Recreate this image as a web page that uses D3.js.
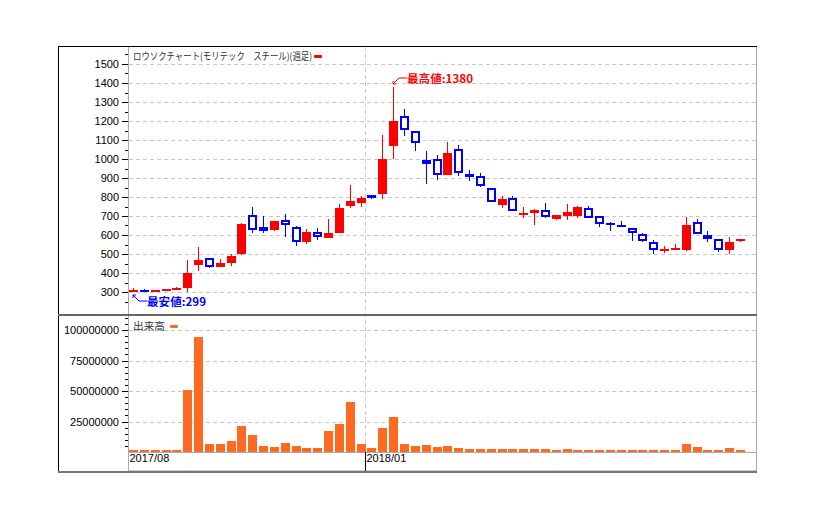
<!DOCTYPE html>
<html><head><meta charset="utf-8">
<script src="https://cdn.jsdelivr.net/npm/d3@7"></script>
<style>body{margin:0;background:#fff}svg{display:block}</style>
</head><body><svg id="c" width="815" height="520"></svg>
<script>
const dates = ["2017/08/04","2017/08/11","2017/08/18","2017/08/25","2017/09/01","2017/09/08","2017/09/15","2017/09/22","2017/09/29","2017/10/06","2017/10/13","2017/10/20","2017/10/27","2017/11/03","2017/11/10","2017/11/17","2017/11/24","2017/12/01","2017/12/08","2017/12/15","2017/12/22","2017/12/29",
"2018/01/05","2018/01/12","2018/01/19","2018/01/26","2018/02/02","2018/02/09","2018/02/16","2018/02/23","2018/03/02","2018/03/09","2018/03/16","2018/03/23","2018/03/30","2018/04/06","2018/04/13","2018/04/20","2018/04/27","2018/05/04","2018/05/11","2018/05/18","2018/05/25","2018/06/01","2018/06/08","2018/06/15","2018/06/22","2018/06/29","2018/07/06","2018/07/13","2018/07/20","2018/07/27","2018/08/03","2018/08/10","2018/08/17","2018/08/24","2018/08/31"];
const open  = [300,313,305,305,310,321,440,477,434,454,498,705,640,625,679,642,561,616,582,612,755,771,810,818,1071,1225,1146,995,999,918,1051,921,910,847,760,794,715,716,731,682,698,702,741,700,665,654,636,605,563,514,519,519,668,600,578,519,570];
const high  = [321,314,312,316,328,468,538,478,472,500,662,749,702,676,712,649,631,637,686,764,864,805,812,1127,1380,1263,1150,1043,1022,1090,1074,941,926,847,805,805,747,738,768,706,764,754,754,700,670,673,636,612,575,543,554,696,685,620,578,591,580];
const low   = [299,305,302,305,308,300,413,428,431,438,497,610,610,619,588,540,551,574,582,610,743,748,790,792,1000,1120,1040,871,892,916,911,882,852,773,740,726,692,654,687,677,677,687,689,642,619,640,571,561,500,503,519,518,605,561,508,500,564];
const close = [310,311,310,316,323,400,468,433,452,489,660,626,621,675,653,563,617,589,612,743,780,797,795,1000,1200,1152,1083,973,915,1032,925,905,857,773,790,726,717,733,694,705,722,746,689,658,652,645,610,568,519,526,533,654,605,578,519,564,580];
const volume = [1400000,1400000,1400000,1400000,1400000,50700000,94200000,6300000,6300000,8800000,21000000,13700000,4700000,3800000,7100000,4700000,3000000,3000000,17300000,23000000,40800000,6300000,3000000,19500000,28500000,6300000,4700000,5500000,3800000,4700000,3000000,2200000,2200000,2200000,2200000,2200000,2200000,2200000,2200000,1400000,2200000,1400000,1400000,1400000,1400000,1400000,1400000,1400000,1400000,1400000,1400000,6300000,3800000,1400000,1400000,3000000,1400000];
const priceTicks = [300,400,500,600,700,800,900,1000,1100,1200,1300,1400,1500];
const priceMinorTicks = [250,350,450,550,650,750,850,950,1050,1150,1250,1350,1450,1550];
const volumeTicks = [25000000,50000000,75000000,100000000];
const volumeMinorTicks = [5000000,10000000,15000000,20000000,30000000,35000000,40000000,45000000,55000000,60000000,65000000,70000000,80000000,85000000,90000000,95000000,105000000,110000000];
const xTickDates = ["2017/08/04","2018/01/05"];
const xTickLabels = ["2017/08","2018/01"];
const chartTitle = "ロウソクチャート(モリテック\u3000スチール)(週足)";
const volumeTitle = "出来高";

const RED = "#ff0000", BLUE = "#0000ff", ORANGE = "#ff6a22", GRID = "#c8c8c8";
const svg = d3.select("#c");
svg.append("rect").attr("width",815).attr("height",520).attr("fill","#fff");

const x = d3.scaleBand().domain(dates).range([129,745]).paddingInner(0.1697).paddingOuter(0);
const xl = d => Math.round(x(d));
const bw = 9;
const y = d3.scaleLinear().domain([300,1500]).range([292,64]).interpolate(d3.interpolateRound);
const yv = d3.scaleLinear().domain([0,100000000]).range([452,330]).interpolate(d3.interpolateRound);

const PL = 128, PR = 757;
// gridlines
const grid = svg.append("g").attr("stroke",GRID).attr("stroke-dasharray","4,3").attr("stroke-width",1);
priceTicks.forEach(t => grid.append("line").attr("x1",PL+1).attr("x2",PR).attr("y1",y(t)+0.5).attr("y2",y(t)+0.5));
volumeTicks.forEach(t => grid.append("line").attr("x1",PL+1).attr("x2",PR).attr("y1",yv(t)+0.5).attr("y2",yv(t)+0.5));
const gx = xl("2018/01/05") - 1.5;
grid.append("line").attr("x1",gx).attr("x2",gx).attr("y1",47).attr("y2",452);

// volume bars
svg.append("g").selectAll("rect").data(dates).join("rect")
  .attr("x", d => xl(d)).attr("width", bw)
  .attr("y", (d,i) => yv(volume[i])).attr("height", (d,i) => yv(0) - yv(volume[i]))
  .attr("fill", ORANGE);

// candles
const cg = svg.append("g");
dates.forEach((d,i) => {
  const up = close[i] >= open[i];
  const col = up ? RED : BLUE;
  const cx = xl(d) + 4.5;
  cg.append("line").attr("x1",cx).attr("x2",cx).attr("y1",y(high[i])).attr("y2",y(low[i]))
    .attr("stroke",col).attr("stroke-width",1);
  const top = Math.min(y(open[i]), y(close[i]));
  const h = Math.max(2, Math.abs(y(open[i]) - y(close[i])));
  if (up) {
    cg.append("rect").attr("x",xl(d)).attr("y",top).attr("width",bw).attr("height",h).attr("fill",RED);
  } else {
    if (h <= 3) {
      cg.append("rect").attr("x",xl(d)).attr("y",top).attr("width",bw).attr("height",Math.max(2,h)).attr("fill",BLUE);
    } else {
      cg.append("rect").attr("x",xl(d)+1).attr("y",top+1).attr("width",bw-2).attr("height",h-2)
        .attr("fill","#fff").attr("stroke",BLUE).attr("stroke-width",2);
    }
  }
});

// axes
const axFont = "'Liberation Sans', Arial, sans-serif";
function styleAxis(g){
  g.select(".domain").remove();
  g.selectAll("text").attr("font-family",axFont).attr("font-size",11).attr("fill","#000");
  g.selectAll("line").attr("stroke","#000");
}
svg.append("g").attr("transform",`translate(${PL},0)`)
  .call(d3.axisLeft(y).tickValues(priceTicks).tickSize(6).tickPadding(3).tickFormat(d3.format("d"))).call(styleAxis);
svg.append("g").attr("transform",`translate(${PL},0)`)
  .call(d3.axisLeft(y).tickValues(priceMinorTicks).tickSize(3).tickFormat("")).call(styleAxis);
svg.append("g").attr("transform",`translate(${PL},0)`)
  .call(d3.axisLeft(yv).tickValues(volumeTicks).tickSize(6).tickPadding(3).tickFormat(d3.format("d"))).call(styleAxis);
svg.append("g").attr("transform",`translate(${PL},0)`)
  .call(d3.axisLeft(yv).tickValues(volumeMinorTicks).tickSize(3).tickFormat("")).call(styleAxis);

// x axis
const xa = svg.append("g").attr("transform","translate(0,452)");
xa.append("line").attr("x1",PL).attr("x2",PR).attr("y1",0.5).attr("y2",0.5).attr("stroke","#aaa");
xa.append("line").attr("x1",PL+1).attr("x2",PR).attr("y1",18.5).attr("y2",18.5).attr("stroke","#ccc");
xTickDates.forEach((d,i) => {
  const tx = i === 0 ? PL + 0.5 : xl(d) - 1.5;
  if (i > 0) xa.append("line").attr("x1",tx).attr("x2",tx).attr("y1",0).attr("y2",19).attr("stroke","#000");
  xa.append("text").attr("x", tx + 1).attr("y", 9.5).attr("font-family",axFont).attr("font-size",11)
    .attr("fill","#000").text(xTickLabels[i]);
});

// frame
svg.append("line").attr("x1",PL+0.5).attr("x2",PL+0.5).attr("y1",46).attr("y2",472).attr("stroke","#aaa");
svg.append("line").attr("x1",PR-0.5).attr("x2",PR-0.5).attr("y1",46).attr("y2",472).attr("stroke","#aaa");
svg.append("line").attr("x1",58).attr("x2",PR).attr("y1",46.5).attr("y2",46.5).attr("stroke","#000");
svg.append("line").attr("x1",58.5).attr("x2",58.5).attr("y1",46).attr("y2",473).attr("stroke","#000");
svg.append("rect").attr("x",58).attr("y",314).attr("width",PR-58).attr("height",2).attr("fill","#666");
svg.append("rect").attr("x",58).attr("y",471).attr("width",PR-58).attr("height",2).attr("fill","#777");

// titles / legends
const jp = "'Noto Sans CJK JP', sans-serif";
svg.append("text").attr("x",133).attr("y",60).attr("font-family",jp).attr("font-size",10)
  .attr("textLength",179).attr("lengthAdjust","spacingAndGlyphs").attr("fill","#333").text(chartTitle);
svg.append("rect").attr("x",314).attr("y",55).attr("width",8).attr("height",3).attr("rx",1).attr("fill",RED);
svg.append("text").attr("x",133).attr("y",330).attr("font-family",jp).attr("font-size",10.5)
  .attr("textLength",32).attr("lengthAdjust","spacingAndGlyphs").attr("fill","#333").text(volumeTitle);
svg.append("rect").attr("x",170).attr("y",325).attr("width",8).attr("height",3).attr("rx",1).attr("fill",ORANGE);

// annotations
const iMax = d3.maxIndex(high), iMin = d3.minIndex(low);
{
  const tx = xl(dates[iMax]) + 4, ty = y(high[iMax]) - 3;
  svg.append("path").attr("d",`M${tx},${ty-3}L${tx},${ty}L${tx+3},${ty}M${tx},${ty}L${tx+6},${ty-6}L${tx+14},${ty-6}`)
    .attr("fill","none").attr("stroke",RED).attr("stroke-width",1);
  svg.append("text").attr("x",tx+14).attr("y",ty-1.5).attr("font-family",jp).attr("font-weight","bold")
    .attr("font-size",11).attr("textLength",66).attr("lengthAdjust","spacingAndGlyphs").attr("fill",RED)
    .text("最高値:" + high[iMax]);
}
{
  const tx = xl(dates[iMin]) + 4, ty = y(low[iMin]) + 3;
  svg.append("path").attr("d",`M${tx},${ty+3}L${tx},${ty}L${tx+3},${ty}M${tx},${ty}L${tx+6},${ty+6}L${tx+14},${ty+6}`)
    .attr("fill","none").attr("stroke",BLUE).attr("stroke-width",1);
  svg.append("text").attr("x",tx+14).attr("y",ty+10.5).attr("font-family",jp).attr("font-weight","bold")
    .attr("font-size",11).attr("textLength",59).attr("lengthAdjust","spacingAndGlyphs").attr("fill",BLUE)
    .text("最安値:" + low[iMin]);
}
</script></body></html>
